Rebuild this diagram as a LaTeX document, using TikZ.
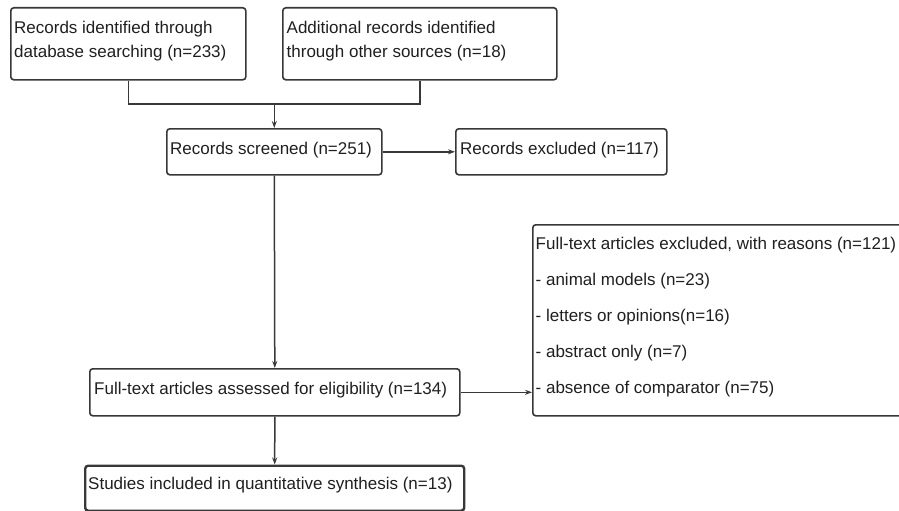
\documentclass[tikz,border=0pt]{standalone}
\usepackage{fontspec}
\setmainfont{Liberation Sans}
\usetikzlibrary{arrows.meta}

\begin{document}
\begin{tikzpicture}[x=1pt, y=-1pt,
  box/.style={draw=black!78, line width=1.6pt, rounded corners=3pt, anchor=north west, inner sep=0pt},
  txt/.style={anchor=north west, inner sep=0pt, align=left, text=black!88, font=\fontsize{17}{24}\selectfont},
  flow/.style={draw=black!78, line width=1.5pt},
  arr/.style={flow, -{Stealth[length=7pt, width=5pt]}}]
  \useasboundingbox (0,0) rectangle (899,511);
  \clip (0,0) rectangle (899,511);
  % boxes
  \node[box, minimum width=235pt, minimum height=72pt] (ident) at (10,7) {};
  \node[box, minimum width=274pt, minimum height=72pt] (addit) at (282,7) {};
  \node[box, minimum width=215pt, minimum height=46pt] (screen) at (166,128) {};
  \node[box, minimum width=211pt, minimum height=46pt] (excl) at (455,128) {};
  \node[box, minimum width=380pt, minimum height=191pt] (fullx) at (532,224) {};
  \node[box, minimum width=370pt, minimum height=47pt] (assess) at (89,368) {};
  \node[box, line width=2.4pt, minimum width=379pt, minimum height=45pt] (incl) at (84,464.5) {};
  % texts
  \node[txt] (ident-t) at (14,20.6) {Records identified through\\database searching (n=233)};
  \node[txt] (addit-t) at (286.5,20.6) {Additional records identified\\through other sources (n=18)};
  \node[txt] (screen-t) at (170,141.6) {Records screened (n=251)};
  \node[txt] (excl-t) at (460,141.6) {Records excluded (n=117)};
  \node[txt, font=\fontsize{17}{36}\selectfont] (fullx-t) at (535.5,237) {Full-text articles excluded, with reasons (n=121)\\- animal models (n=23)\\- letters or opinions(n=16)\\- abstract only (n=7)\\- absence of comparator (n=75)};
  \node[txt] (assess-t) at (94,381.6) {Full-text articles assessed for eligibility (n=134)};
  \node[txt] (incl-t) at (88,477) {Studies included in quantitative synthesis (n=13)};
  % connectors
  \coordinate (merge) at (screen.north |- 0,104);
  \draw[flow] (ident.south) |- (merge) -| (addit.south);
  \draw[arr] (merge) -- (screen.north);
  \draw[arr] (screen.east) -- (excl.west);
  \draw[arr] (screen.south) -- (assess.north);
  \draw[arr] (assess.east) -- (fullx.west |- assess.east);
  \draw[arr] (assess.south) -- (incl.north);
\end{tikzpicture}
\end{document}
